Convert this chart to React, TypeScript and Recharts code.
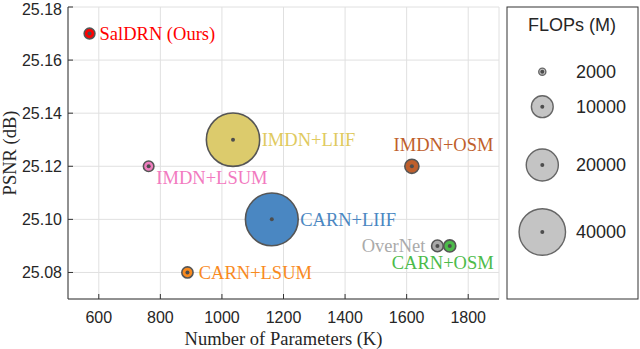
import React from 'react';
import { ScatterChart, Scatter, XAxis, YAxis, CartesianGrid, Label } from 'recharts';

// ---- data ----
const models = ['SalDRN (Ours)', 'IMDN+LSUM', 'IMDN+LIIF', 'IMDN+OSM', 'CARN+LIIF', 'CARN+LSUM', 'OverNet', 'CARN+OSM'];
const paramsK = [570, 762, 1036, 1617, 1162, 888, 1700, 1740];
const psnrDb = [25.17, 25.12, 25.13, 25.12, 25.10, 25.08, 25.09, 25.09];
const flopsM = [3300, 3200, 52000, 4900, 51000, 3500, 3700, 3900];
const xTicks = [600, 800, 1000, 1200, 1400, 1600, 1800];
const yTicks = [25.08, 25.10, 25.12, 25.14, 25.16, 25.18];
const legendFlops = [2000, 10000, 20000, 40000];

// ---- styles ----
const fillColors: Record<string, string> = {
  'SalDRN (Ours)': '#ff0000',
  'IMDN+LSUM': '#f07ebf',
  'IMDN+LIIF': '#dccb6c',
  'IMDN+OSM': '#bf5f2c',
  'CARN+LIIF': '#4a87c2',
  'CARN+LSUM': '#f98a1e',
  'OverNet': '#a9a9a9',
  'CARN+OSM': '#4cbb4a',
};
const textColors: Record<string, string> = {
  'SalDRN (Ours)': '#ff0000',
  'IMDN+LSUM': '#f27ac0',
  'IMDN+LIIF': '#e0ca5e',
  'IMDN+OSM': '#bf5f2c',
  'CARN+LIIF': '#4a87c2',
  'CARN+LSUM': '#f98a1e',
  'OverNet': '#aaaaaa',
  'CARN+OSM': '#4cbb4a',
};
const labelPlacement: Record<string, { dx: number; dy: number; anchor: 'start' | 'end' }> = {
  'SalDRN (Ours)': { dx: 10, dy: 0, anchor: 'start' },
  'IMDN+LSUM': { dx: 7.7, dy: 11, anchor: 'start' },
  'IMDN+LIIF': { dx: 28.7, dy: 0, anchor: 'start' },
  'IMDN+OSM': { dx: -18.3, dy: -21.5, anchor: 'start' },
  'CARN+LIIF': { dx: 28.4, dy: 0, anchor: 'start' },
  'CARN+LSUM': { dx: 11.3, dy: 0, anchor: 'start' },
  'OverNet': { dx: -12, dy: 0, anchor: 'end' },
  'CARN+OSM': { dx: -58, dy: 16.5, anchor: 'start' },
};

const data = models.map((name, i) => ({ name, params: paramsK[i], psnr: psnrDb[i], flops: flopsM[i] }));

const bubbleRadius = (f: number) => Math.sqrt(Math.max(0.0586 * f - 43, 16)) / 2 - 0.75;

const SERIF = '"Liberation Serif", "Times New Roman", serif';
const SANS = '"Liberation Sans", Arial, sans-serif';
const AXIS = '#333333';

const Bubble = (props: any) => {
  const { cx, cy, payload } = props;
  if (cx == null || cy == null) return null;
  const r = bubbleRadius(payload.flops);
  return (
    <g>
      <circle cx={cx} cy={cy} r={r} fill={fillColors[payload.name]} stroke="#555555" strokeWidth={1.6} />
      <circle cx={cx} cy={cy} r={2} fill="#4d4d4d" />
    </g>
  );
};

const BubbleLabel = (props: any) => {
  const { cx, cy, payload } = props;
  if (cx == null || cy == null) return null;
  const p = labelPlacement[payload.name];
  return (
    <text x={cx + p.dx} y={cy + p.dy} dy="0.35em" textAnchor={p.anchor} fontFamily={SERIF} fontSize={18.5} fill={textColors[payload.name]}>
      {payload.name}
    </text>
  );
};

const YTitle = (props: any) => {
  const vb = props.viewBox || { x: 8, y: 7, height: 292 };
  const x = 15.5;
  const y = vb.y + vb.height / 2;
  return (
    <text x={x} y={y} transform={`rotate(-90, ${x}, ${y})`} textAnchor="middle" fontFamily={SERIF} fontSize={18.5} fill="#262626">
      PSNR (dB)
    </text>
  );
};

const XTitle = (props: any) => {
  const vb = props.viewBox || { x: 68, width: 431 };
  return (
    <text x={vb.x + vb.width / 2} y={345} textAnchor="middle" fontFamily={SERIF} fontSize={18.5} fill="#262626">
      Number of Parameters (K)
    </text>
  );
};

const legendY = [71.7, 106.7, 165, 232];

export default function App() {
  return (
    <div style={{ position: 'absolute', left: 0, top: 0, width: 640, height: 349, background: '#ffffff' }}>
      <ScatterChart width={640} height={349} margin={{ top: 7, right: 141, bottom: 20, left: 8 }}>
        <CartesianGrid stroke="#e0e0e0" strokeWidth={1} />
        <XAxis
          xAxisId={0}
          dataKey="params"
          type="number"
          domain={[500, 1900]}
          ticks={xTicks}
          allowDataOverflow
          height={30}
          tickSize={-5}
          tickMargin={18}
          stroke={AXIS}
          tick={{ fontFamily: SANS, fontSize: 16, fill: '#262626' }}
        >
          <Label content={<XTitle />} />
        </XAxis>
        <XAxis
          xAxisId="top"
          orientation="top"
          type="number"
          dataKey="params"
          domain={[500, 1900]}
          ticks={xTicks}
          allowDataOverflow
          height={0}
          tickSize={-5}
          tickFormatter={() => ''}
          stroke={AXIS}
        />
        <YAxis
          yAxisId={0}
          dataKey="psnr"
          type="number"
          domain={[25.07, 25.18]}
          ticks={yTicks}
          allowDataOverflow
          width={60}
          tickSize={-5}
          tickMargin={11}
          stroke={AXIS}
          tickFormatter={(v: number) => v.toFixed(2)}
          tick={{ fontFamily: SANS, fontSize: 16, fill: '#262626' }}
        >
          <Label content={<YTitle />} />
        </YAxis>
        <YAxis
          yAxisId="right"
          orientation="right"
          type="number"
          dataKey="psnr"
          domain={[25.07, 25.18]}
          ticks={yTicks}
          allowDataOverflow
          width={0}
          tickSize={-5}
          tickFormatter={() => ''}
          stroke={AXIS}
        />
        <Scatter data={data} xAxisId={0} yAxisId={0} shape={<Bubble />} isAnimationActive={false} />
        <Scatter data={data} xAxisId={0} yAxisId={0} shape={<BubbleLabel />} isAnimationActive={false} />
      </ScatterChart>
      <svg width={640} height={349} style={{ position: 'absolute', left: 0, top: 0, pointerEvents: 'none' }}>
        <rect x={507} y={7} width={131} height={292} fill="#ffffff" stroke={AXIS} strokeWidth={1} />
        <text x={572} y={25} dy="0.35em" textAnchor="middle" fontFamily={SANS} fontSize={18} fill="#262626">
          FLOPs (M)
        </text>
        {legendFlops.map((f, i) => (
          <g key={f}>
            <circle cx={542.3} cy={legendY[i]} r={bubbleRadius(f)} fill="#c4c4c4" stroke="#666666" strokeWidth={1.4} />
            <circle cx={542.3} cy={legendY[i]} r={2} fill="#4d4d4d" />
            <text x={576} y={legendY[i]} dy="0.35em" fontFamily={SANS} fontSize={18} fill="#262626">
              {f}
            </text>
          </g>
        ))}
      </svg>
    </div>
  );
}
